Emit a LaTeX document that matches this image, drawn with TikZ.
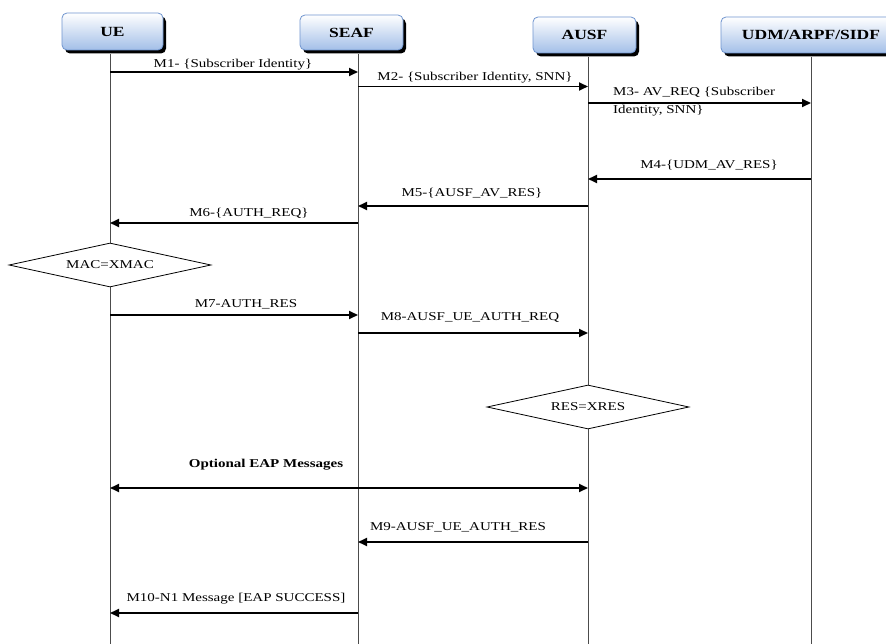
\documentclass[tikz,border=0pt]{standalone}
\usepackage{fontspec}
\setmainfont{Liberation Serif}[FakeStretch=1.25]
\usetikzlibrary{shapes.geometric,shadows,arrows.meta}
\definecolor{boxblue}{HTML}{A3BFE8}
\definecolor{boxborder}{HTML}{7095CF}
\begin{document}
\begin{tikzpicture}[x=1pt,y=-1pt,
  actor/.style={draw=boxborder, line width=0.8pt, rounded corners=5pt, top color=white, bottom color=boxblue,
    font=\fontsize{14}{15}\selectfont\bfseries, inner sep=0pt,
    general shadow={fill=black, shadow xshift=3pt, shadow yshift=-3.5pt}},
  life/.style={draw=black!70, line width=0.9pt},
  msg/.style={line width=1.8pt, -{Triangle[length=9pt,width=8pt]}},
  both/.style={line width=1.8pt, {Triangle[length=9pt,width=8pt]}-{Triangle[length=9pt,width=8pt]}},
  lbl/.style={font=\fontsize{12}{13}\selectfont, inner sep=0pt},
  check/.style={diamond, aspect=4.6, draw, fill=white, line width=0.8pt, minimum width=202pt, minimum height=44pt,
    inner sep=0pt, font=\fontsize{12}{13}\selectfont}]
\useasboundingbox[fill=white] (0,0) rectangle (886,644);

% lifeline bottoms
\coordinate (ue-bot) at (110,644);
\coordinate (seaf-bot) at (358,644);
\coordinate (ausf-bot) at (588,644);
\coordinate (udm-bot) at (811,644);

% actors
\node[actor, minimum width=101pt, minimum height=37pt] (ue) at (112.5,31.5) {UE};
\node[actor, minimum width=103pt, minimum height=35pt] (seaf) at (351.5,32.5) {SEAF};
\node[actor, minimum width=103pt, minimum height=36pt] (ausf) at (584.5,35) {AUSF};
\node[actor, minimum width=180pt, minimum height=36pt] (udm) at (811,35) {UDM/ARPF/SIDF};

% lifelines
\draw[life] (ue.south -| ue-bot) ++(0,3.5) -- (ue-bot);
\draw[life] (seaf.south -| seaf-bot) ++(0,3.5) -- (seaf-bot);
\draw[life] (ausf.south -| ausf-bot) ++(0,3.5) -- (ausf-bot);
\draw[life] (udm.south -| udm-bot) ++(0,3.5) -- (udm-bot);

% message rows
\coordinate (m1) at (0,72);
\coordinate (m2) at (0,86.5);
\coordinate (m3) at (0,103);
\coordinate (m4) at (0,179);
\coordinate (m5) at (0,206);
\coordinate (m6) at (0,223);
\coordinate (m7) at (0,315);
\coordinate (m8) at (0,333);
\coordinate (eap) at (0,488);
\coordinate (m9) at (0,542);
\coordinate (m10) at (0,613);

\draw[msg] (ue-bot |- m1) -- (seaf-bot |- m1);
\node[lbl] (l1) at (233,65) {M1- \{Subscriber Identity\}};

\draw[msg] (seaf-bot |- m2) -- (ausf-bot |- m2);
\node[lbl] (l2) at (475,78) {M2- \{Subscriber Identity, SNN\}};

\draw[msg] (ausf-bot |- m3) -- (udm-bot |- m3);
\node[lbl, anchor=west, align=left, font=\fontsize{12}{18}\selectfont] (l3) at (613,102) {M3- AV\_REQ \{Subscriber\\Identity, SNN\}};

\draw[msg] (udm-bot |- m4) -- (ausf-bot |- m4);
\node[lbl] (l4) at (709,165) {M4-\{UDM\_AV\_RES\}};

\draw[msg] (ausf-bot |- m5) -- (seaf-bot |- m5);
\node[lbl] (l5) at (472,193) {M5-\{AUSF\_AV\_RES\}};

\draw[msg] (seaf-bot |- m6) -- (ue-bot |- m6);
\node[lbl] (l6) at (249,213) {M6-\{AUTH\_REQ\}};

\node[check] (mac) at (110,265) {MAC=XMAC};

\draw[msg] (ue-bot |- m7) -- (seaf-bot |- m7);
\node[lbl] (l7) at (246,304) {M7-AUTH\_RES};

\draw[msg] (seaf-bot |- m8) -- (ausf-bot |- m8);
\node[lbl] (l8) at (470,317) {M8-AUSF\_UE\_AUTH\_REQ};

\node[check] (res) at (588,407) {RES=XRES};

\draw[both] (ue-bot |- eap) -- (ausf-bot |- eap);
\node[lbl, font=\fontsize{12}{13}\selectfont\bfseries] (leap) at (266,465) {Optional EAP Messages};

\draw[msg] (ausf-bot |- m9) -- (seaf-bot |- m9);
\node[lbl] (l9) at (458,527) {M9-AUSF\_UE\_AUTH\_RES};

\draw[msg] (seaf-bot |- m10) -- (ue-bot |- m10);
\node[lbl] (l10) at (236,599) {M10-N1 Message [EAP SUCCESS]};
\end{tikzpicture}
\end{document}
